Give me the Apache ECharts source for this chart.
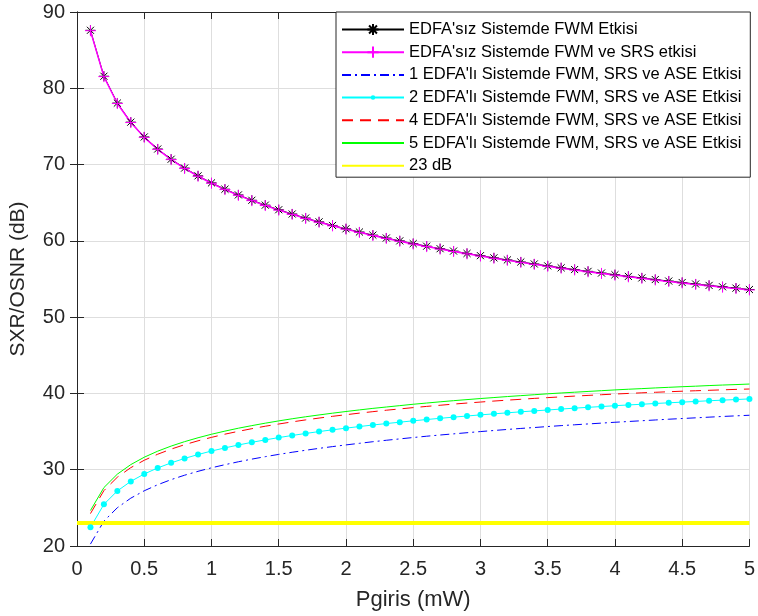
<!DOCTYPE html>
<html>
<head>
<meta charset="utf-8">
<script src="https://cdn.jsdelivr.net/npm/echarts@6/dist/echarts.min.js"></script>
<style>
html,body{margin:0;padding:0;background:#fff;}
#chart{width:758px;height:616px;}
</style>
</head>
<body>
<div id="chart"></div>
<script>
var pgiris = [0.1,0.2,0.3,0.4,0.5,0.6,0.7,0.8,0.9,1.0,1.1,1.2,1.3,1.4,1.5,1.6,1.7,1.8,1.9,2.0,2.1,2.2,2.3,2.4,2.5,2.6,2.7,2.8,2.9,3.0,3.1,3.2,3.3,3.4,3.5,3.6,3.7,3.8,3.9,4.0,4.1,4.2,4.3,4.4,4.5,4.6,4.7,4.8,4.9,5.0];

var fwmNoEdfa = [87.60,81.58,78.06,75.56,73.62,72.04,70.70,69.54,68.52,67.60,66.77,66.02,65.32,64.68,64.08,63.52,62.99,62.49,62.02,61.58,61.16,60.75,60.37,60.00,59.64,59.30,58.97,58.66,58.35,58.06,57.77,57.50,57.23,56.97,56.72,56.47,56.24,56.00,55.78,55.56,55.34,55.14,54.93,54.73,54.54,54.34,54.16,53.98,53.80,53.62];

var fwmSrsNoEdfa = [87.55,81.53,78.01,75.51,73.57,71.99,70.65,69.49,68.47,67.55,66.72,65.97,65.27,64.63,64.03,63.47,62.94,62.44,61.97,61.53,61.11,60.70,60.32,59.95,59.59,59.25,58.92,58.61,58.30,58.01,57.72,57.45,57.18,56.92,56.67,56.42,56.19,55.95,55.73,55.51,55.29,55.09,54.88,54.68,54.49,54.29,54.11,53.93,53.75,53.57];

var edfa1 = [20.25,23.26,25.02,26.27,27.24,28.03,28.70,29.28,29.79,30.25,30.66,31.04,31.39,31.71,32.01,32.29,32.55,32.80,33.03,33.25,33.46,33.67,33.86,34.04,34.22,34.39,34.55,34.70,34.85,35.00,35.14,35.28,35.41,35.53,35.66,35.78,35.89,36.00,36.11,36.22,36.32,36.42,36.52,36.62,36.71,36.80,36.89,36.98,37.06,37.14];

var edfa2 = [22.45,25.46,27.22,28.47,29.44,30.23,30.90,31.48,31.99,32.45,32.86,33.24,33.59,33.91,34.21,34.49,34.75,35.00,35.23,35.45,35.66,35.86,36.05,36.23,36.41,36.58,36.74,36.89,37.04,37.19,37.32,37.46,37.59,37.71,37.83,37.95,38.07,38.18,38.28,38.39,38.49,38.58,38.68,38.77,38.86,38.95,39.04,39.12,39.20,39.28];

var edfa4 = [24.25,27.26,29.02,30.27,31.24,32.03,32.70,33.28,33.79,34.24,34.66,35.03,35.38,35.70,35.99,36.27,36.53,36.77,37.00,37.21,37.42,37.61,37.80,37.97,38.14,38.30,38.45,38.60,38.74,38.87,39.00,39.12,39.23,39.35,39.45,39.55,39.65,39.74,39.83,39.92,40.00,40.08,40.15,40.22,40.29,40.35,40.41,40.47,40.53,40.58];

var edfa5 = [24.65,27.66,29.42,30.67,31.64,32.43,33.10,33.68,34.19,34.65,35.06,35.44,35.78,36.10,36.40,36.68,36.94,37.18,37.41,37.63,37.84,38.04,38.22,38.40,38.58,38.74,38.90,39.05,39.19,39.33,39.46,39.59,39.71,39.83,39.95,40.06,40.16,40.26,40.36,40.46,40.55,40.63,40.72,40.80,40.88,40.95,41.03,41.10,41.16,41.23];

var limitX = [0, 5];
var limitY = [23, 23];

var seriesNames = [
  "EDFA'sız Sistemde FWM Etkisi",
  "EDFA'sız Sistemde FWM ve SRS etkisi",
  "1 EDFA'lı Sistemde FWM, SRS ve ASE Etkisi",
  "2 EDFA'lı Sistemde FWM, SRS ve ASE Etkisi",
  "4 EDFA'lı Sistemde FWM, SRS ve ASE Etkisi",
  "5 EDFA'lı Sistemde FWM, SRS ve ASE Etkisi",
  "23 dB"
];

function pairs(xs, ys) { return xs.map(function (x, i) { return [x, ys[i]]; }); }

var FONT = "'Liberation Sans', Arial, Helvetica, sans-serif";
var AX = '#262626';
var asterisk = 'path://M0,-10L0,10M-10,0L10,0M-7.07,-7.07L7.07,7.07M-7.07,7.07L7.07,-7.07';
var plus = 'path://M0,-10L0,10M-10,0L10,0';
var dot = 'path://M-5,-5L-5,-5M5,5L5,5M2,0A2,2,0,1,1,-2,0A2,2,0,1,1,2,0Z';
var hidden = {color: 'rgba(0,0,0,0)', borderColor: 'rgba(0,0,0,0)', borderWidth: 0};

var chart = echarts.init(document.getElementById('chart'), null, {renderer: 'canvas'});
chart.setOption({
  animation: false,
  backgroundColor: '#fff',
  textStyle: {fontFamily: FONT},
  grid: {left: 76, right: 4, top: 12, bottom: 69, containLabel: false},
  legend: {
    orient: 'vertical',
    left: 336, top: 12,
    padding: [9, 9, 3, 5],
    itemWidth: 62, itemHeight: 14, itemGap: 5.7,
    borderColor: AX, borderWidth: 1, backgroundColor: '#fff',
    textStyle: {fontSize: 16.5, color: '#000', fontFamily: FONT},
    data: [
      {name: seriesNames[0]},
      {name: seriesNames[1]},
      {name: seriesNames[2], itemStyle: hidden},
      {name: seriesNames[3]},
      {name: seriesNames[4], itemStyle: hidden},
      {name: seriesNames[5], itemStyle: hidden},
      {name: seriesNames[6], itemStyle: hidden}
    ]
  },
  xAxis: [{
    type: 'value', min: 0, max: 5, interval: 0.5,
    axisLine: {show: true, lineStyle: {color: AX, width: 1}},
    axisTick: {show: true, inside: true, length: 7, lineStyle: {color: AX}},
    axisLabel: {fontSize: 20, color: AX, margin: 13, fontFamily: FONT},
    splitLine: {show: true, lineStyle: {color: '#dedede', width: 1}},
    name: 'Pgiris (mW)', nameLocation: 'middle', nameGap: 43,
    nameTextStyle: {fontSize: 22, color: AX, fontFamily: FONT}
  }, {
    type: 'value', min: 0, max: 5, interval: 0.5, position: 'top',
    axisLine: {show: true, lineStyle: {color: AX, width: 1}},
    axisTick: {show: true, inside: true, length: 7, lineStyle: {color: AX}},
    axisLabel: {show: false}, splitLine: {show: false}
  }],
  yAxis: [{
    type: 'value', min: 20, max: 90, interval: 10,
    axisLine: {show: true, lineStyle: {color: AX, width: 1}},
    axisTick: {show: true, inside: true, length: 7, lineStyle: {color: AX}},
    axisLabel: {fontSize: 20, color: AX, margin: 12, fontFamily: FONT},
    splitLine: {show: true, lineStyle: {color: '#dedede', width: 1}},
    name: 'SXR/OSNR (dB)', nameLocation: 'middle', nameGap: 48,
    nameTextStyle: {fontSize: 21, color: AX, fontFamily: FONT}
  }, {
    type: 'value', min: 20, max: 90, interval: 10, position: 'right',
    axisLine: {show: true, lineStyle: {color: AX, width: 1}},
    axisTick: {show: true, inside: true, length: 7, lineStyle: {color: AX}},
    axisLabel: {show: false}, splitLine: {show: false}
  }],
  series: [
    {
      name: seriesNames[0], type: 'line', data: pairs(pgiris, fwmNoEdfa),
      color: '#000', symbol: asterisk, symbolSize: 10,
      itemStyle: {color: '#000', borderColor: '#000', borderWidth: 1},
      lineStyle: {color: '#000', width: 1}
    },
    {
      name: seriesNames[1], type: 'line', data: pairs(pgiris, fwmSrsNoEdfa),
      color: '#ff00ff', symbol: plus, symbolSize: 11,
      itemStyle: {color: '#ff00ff', borderColor: '#ff00ff', borderWidth: 1},
      lineStyle: {color: '#ff00ff', width: 1.5}
    },
    {
      name: seriesNames[2], type: 'line', data: pairs(pgiris, edfa1),
      color: '#0000ff', symbol: 'none',
      lineStyle: {color: '#0000ff', width: 1, type: [9, 4, 2, 4]}
    },
    {
      name: seriesNames[3], type: 'line', data: pairs(pgiris, edfa2),
      color: '#00ffff', symbol: dot, symbolSize: 15,
      itemStyle: {color: '#00ffff', borderWidth: 0},
      lineStyle: {color: '#00ffff', width: 1}
    },
    {
      name: seriesNames[4], type: 'line', data: pairs(pgiris, edfa4),
      color: '#ff0000', symbol: 'none',
      lineStyle: {color: '#ff0000', width: 1, type: [11, 7]}
    },
    {
      name: seriesNames[5], type: 'line', data: pairs(pgiris, edfa5),
      color: '#00ff00', symbol: 'none',
      lineStyle: {color: '#00ff00', width: 1}
    },
    {
      name: seriesNames[6], type: 'line', data: pairs(limitX, limitY),
      color: '#ffff00', symbol: 'none',
      lineStyle: {color: '#ffff00', width: 4}
    }
  ]
});
</script>
</body>
</html>
